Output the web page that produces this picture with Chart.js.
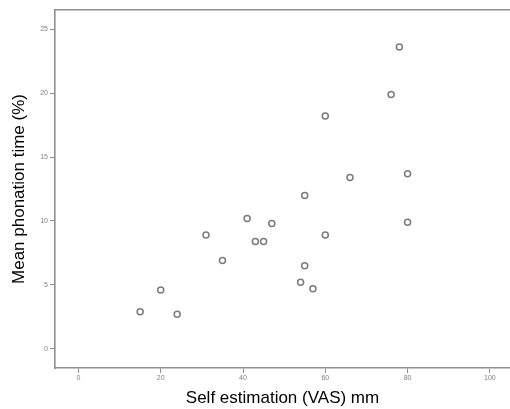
<!DOCTYPE html>
<html>
<head>
<meta charset="utf-8">
<script src="https://cdn.jsdelivr.net/npm/chart.js@4"></script>
<style>
  html, body { margin: 0; padding: 0; background: #fff; }
  #wrap { width: 510px; height: 409px; position: relative; }
</style>
</head>
<body>
<div id="wrap"><canvas id="grafico"></canvas></div>
<script>
// self estimation (VAS, mm) vs mean phonation time (%)
const autoEstimacion = [15, 20, 24, 31, 35, 41, 43, 45, 47, 54, 55, 55, 57, 60, 60, 66, 76, 78, 80, 80];
const tiempoFonacion = [2.9, 4.6, 2.7, 8.9, 6.9, 10.2, 8.4, 8.4, 9.8, 5.2, 6.5, 12.0, 4.7, 8.9, 18.2, 13.4, 19.9, 23.6, 13.7, 9.9];
const ticksX = [0, 20, 40, 60, 80, 100];
const ticksY = [0, 5, 10, 15, 20, 25];

const puntos = autoEstimacion.map((x, i) => ({ x: x, y: tiempoFonacion[i] }));

const colorEje = '#8f8f8f';
const fuenteTicks = { family: 'Liberation Sans', size: 7 };
const fuenteTitulo = { family: 'Liberation Sans', size: 17 };

const ctx = document.getElementById('grafico').getContext('2d');
new Chart(ctx, {
  type: 'scatter',
  data: {
    datasets: [{
      data: puntos,
      pointStyle: 'circle',
      pointRadius: 3,
      pointBorderWidth: 1.5,
      borderColor: '#7a7a7a',
      backgroundColor: '#fff'
    }]
  },
  options: {
    responsive: true,
    maintainAspectRatio: false,
    animation: false,
    layout: { autoPadding: false, padding: { top: 10, right: 0, left: 0, bottom: 0 } },
    plugins: {
      legend: { display: false },
      tooltip: { enabled: false }
    },
    scales: {
      x: {
        type: 'linear',
        position: 'bottom',
        min: -5.7,
        max: 104.9,
        afterBuildTicks: s => { s.ticks = ticksX.map(v => ({ value: v })); },
        afterFit: s => { s.height = 41; },
        border: { display: true, color: colorEje, width: 1.6 },
        grid: { drawOnChartArea: false, drawTicks: true, tickLength: 5, color: colorEje, lineWidth: 1 },
        ticks: { font: fuenteTicks, color: '#808080', padding: 1, maxRotation: 0 },
        title: { display: true, text: 'Self estimation (VAS) mm', font: fuenteTitulo, color: '#000', padding: { top: 0, bottom: 0 } }
      },
      xTop: {
        type: 'linear',
        position: 'top',
        min: -5.7,
        max: 104.9,
        afterFit: s => { s.height = 0; },
        border: { display: true, color: colorEje, width: 1.6 },
        grid: { display: false, drawTicks: false },
        ticks: { display: false }
      },
      y: {
        type: 'linear',
        min: -1.5,
        max: 26.5,
        afterBuildTicks: s => { s.ticks = ticksY.map(v => ({ value: v })); },
        afterFit: s => { s.width = 55; },
        border: { display: true, color: colorEje, width: 1.6 },
        grid: { drawOnChartArea: false, drawTicks: true, tickLength: 5, color: colorEje, lineWidth: 1 },
        ticks: { font: fuenteTicks, color: '#808080', padding: 2 },
        title: { display: true, text: 'Mean phonation time (%)', font: fuenteTitulo, color: '#000', padding: { top: 9, bottom: 0 } }
      }
    }
  }
});
</script>
</body>
</html>
